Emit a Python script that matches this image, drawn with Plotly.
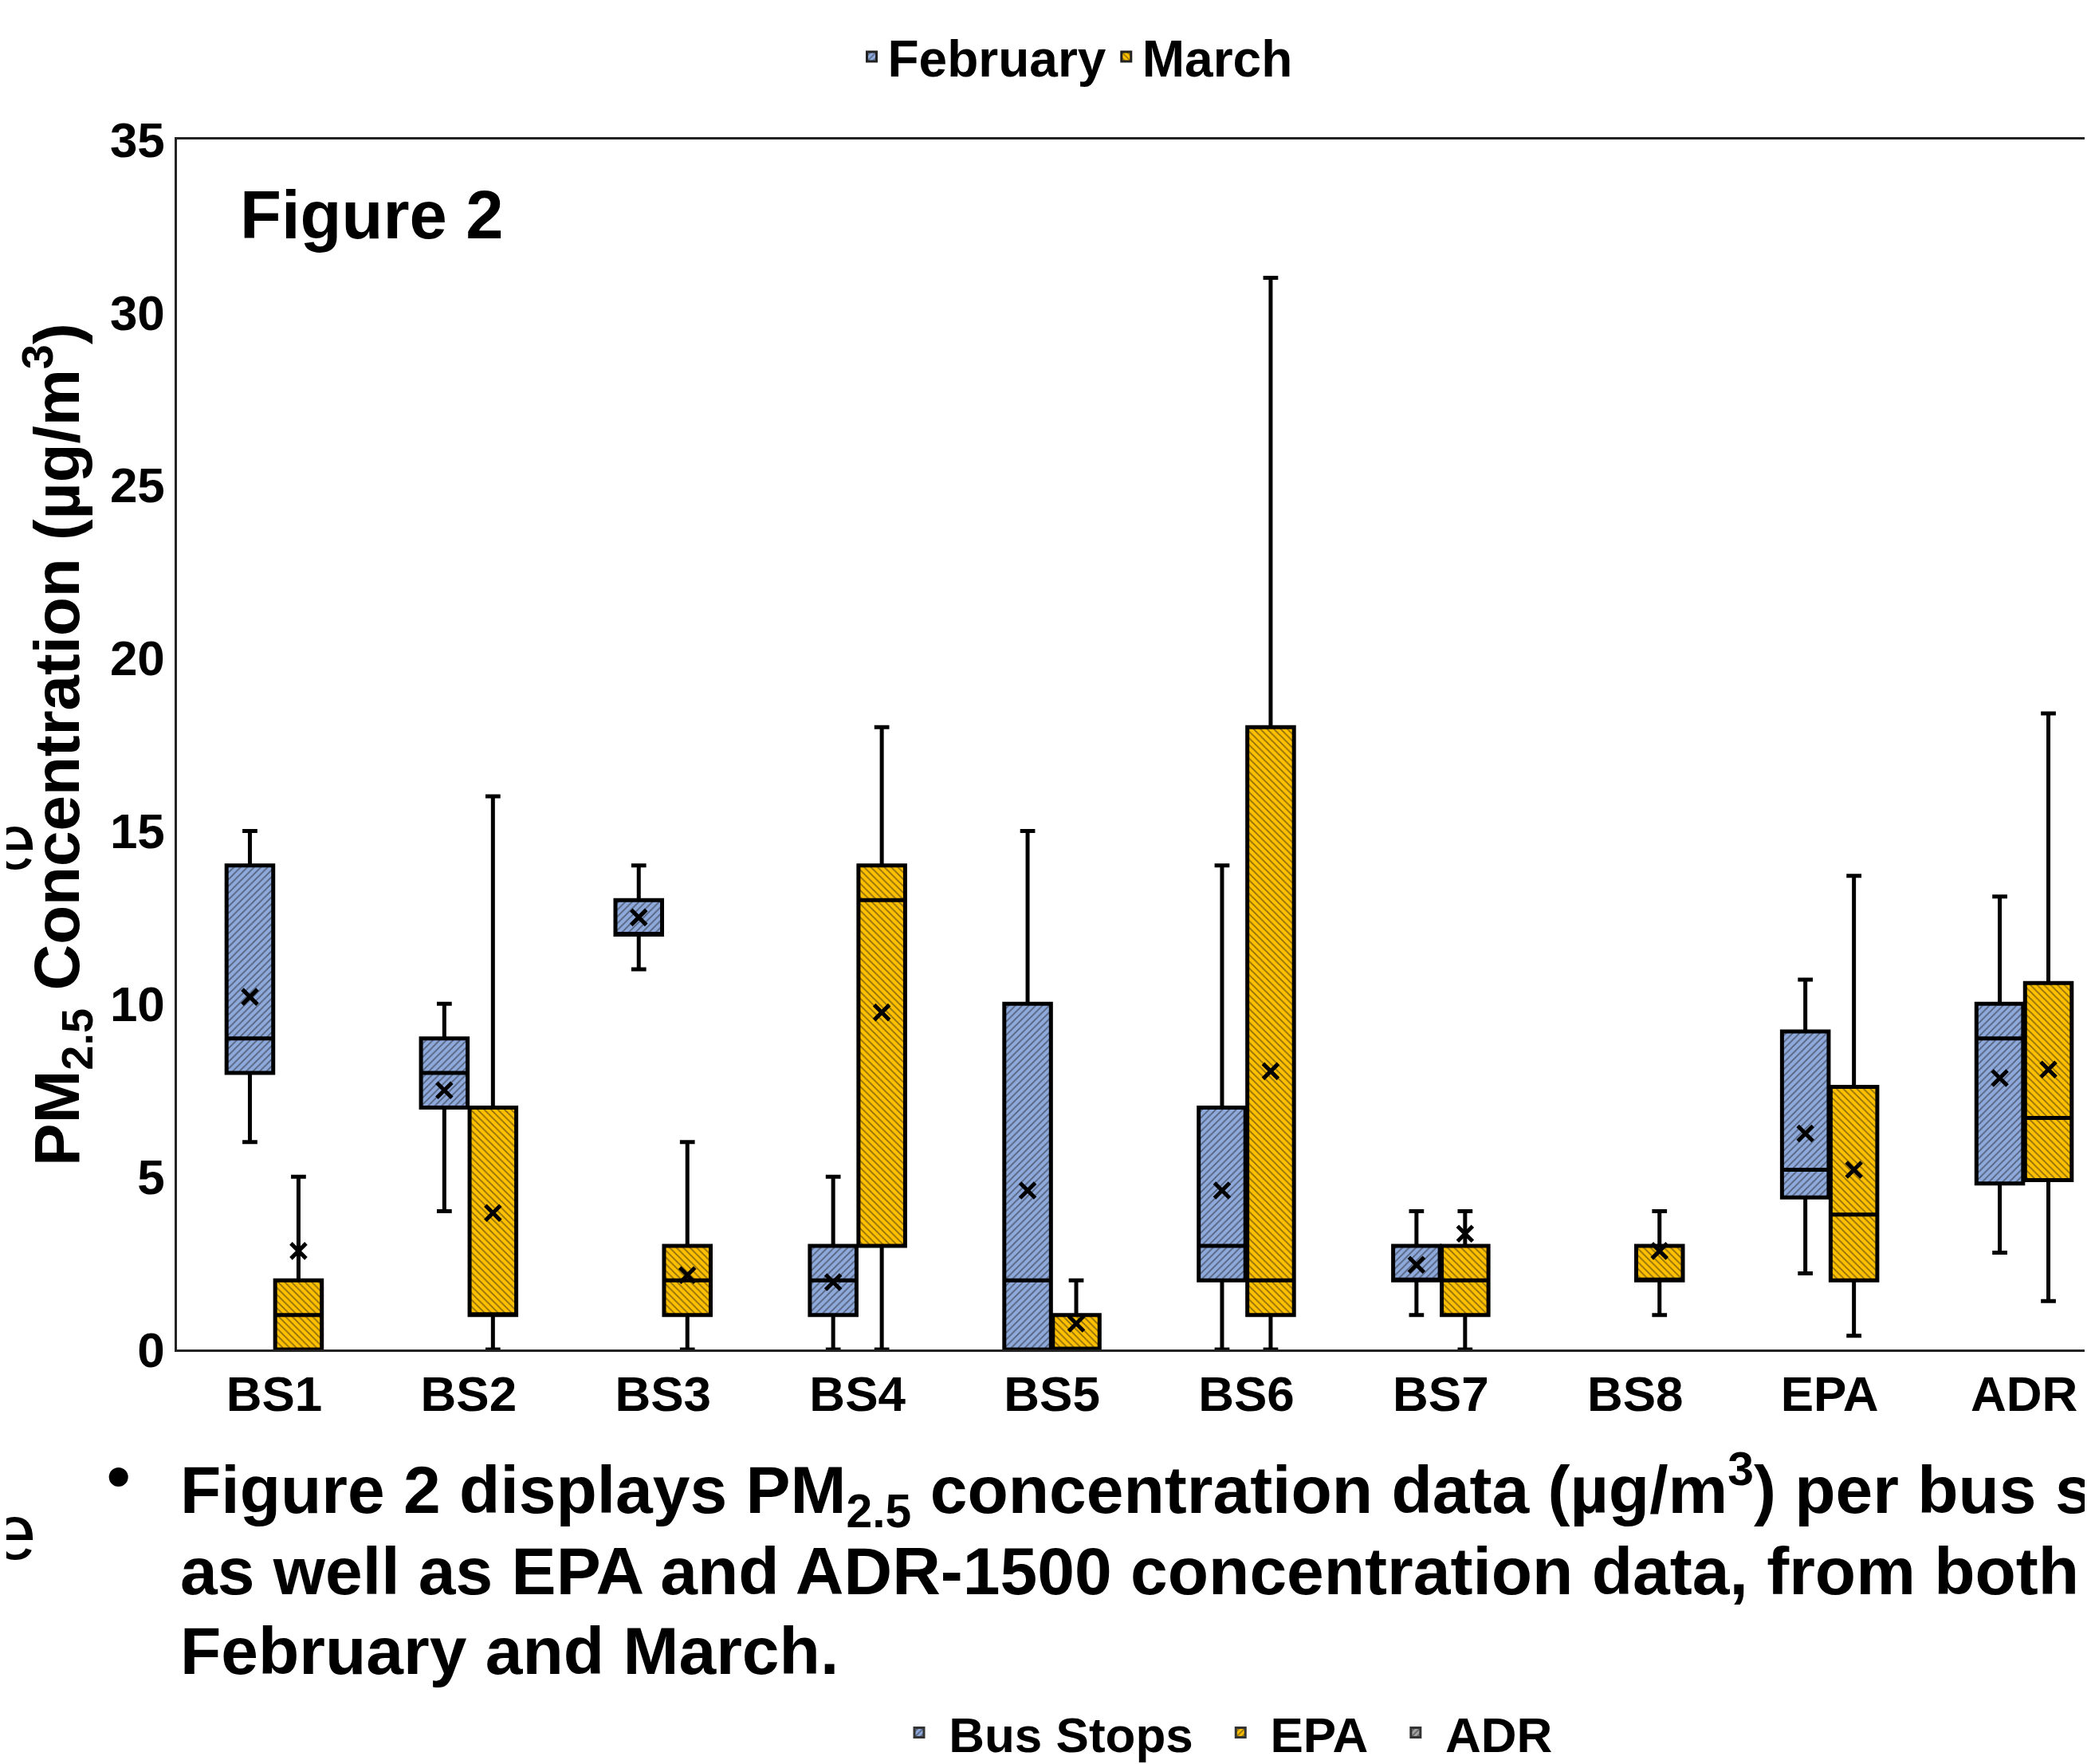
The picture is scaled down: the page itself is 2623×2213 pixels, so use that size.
import plotly.graph_objects as go

# ---------------- data ----------------
categories = ["BS1", "BS2", "BS3", "BS4", "BS5", "BS6", "BS7", "BS8", "EPA", "ADR"]

feb_low    = [6, 4, 11, 0, 0, 0, 1, None, 2.2, 2.8]
feb_q1     = [8, 7, 12, 1, 0, 2, 2, None, 4.4, 4.8]
feb_median = [9, 8, 12, 2, 2, 3, 2, None, 5.2, 9.0]
feb_q3     = [14, 9, 13, 3, 10, 7, 3, None, 9.2, 10.0]
feb_high   = [15, 10, 14, 5, 15, 14, 4, None, 10.7, 13.1]
feb_mean   = [10.2, 7.5, 12.5, 1.95, 4.6, 4.6, 2.45, None, 6.25, 7.85]

mar_low    = [0, 0, 0, 0, 0, 0, 0, 1, 0.4, 1.4]
mar_q1     = [0, 1, 1, 3, 0, 1, 1, 2, 2.0, 4.9]
mar_median = [1, 1, 2, 13, 0, 2, 2, 2, 3.9, 6.7]
mar_q3     = [2, 7, 3, 14, 1, 18, 3, 3, 7.6, 10.6]
mar_high   = [5, 16, 6, 18, 2, 31, 4, 4, 13.7, 18.4]
mar_mean   = [2.85, 3.95, 2.15, 9.75, 0.75, 8.05, 3.35, 2.85, 5.2, 8.1]

y_ticks = [0, 5, 10, 15, 20, 25, 30, 35]

legend2_names = ["Bus Stops", "EPA", "ADR"]

# ---------------- styling ----------------
FONT = "Liberation Sans, Arial, sans-serif"
BLUE = "#8EA9DB"
GOLD = "#FFC000"
GRAY = "#A5A5A5"
HATCH = "#1a1a1a"
NBSP = "\u00a0"

W_FIG, H_FIG = 2623, 2213
L, T, B = 214, 167, 1692
PW = W_FIG - L
PH = B - T
CAT_PX = 243.9          # pixel width of one category band in the reference
BOX_W = 0.24
OFF = 0.125


def px_x(p):
    return (p - L) / PW


def px_y(p):
    return (B - p) / PH


fig = go.Figure()

series = [
    ("February", BLUE, "/", -OFF, feb_low, feb_q1, feb_median, feb_q3, feb_high, feb_mean),
    ("March", GOLD, "\\", OFF, mar_low, mar_q1, mar_median, mar_q3, mar_high, mar_mean),
]

for name, color, shape, off, lo, q1, med, q3, hi, mn in series:
    idx = [i for i in range(len(categories)) if q1[i] is not None]
    xs = [i + off for i in idx]
    # hatched box body
    fig.add_trace(go.Bar(
        x=xs, y=[q3[i] - q1[i] for i in idx], base=[q1[i] for i in idx],
        width=BOX_W, name=name, legend="legend",
        marker=dict(color=color, line=dict(width=3, color="#222"),
                    pattern=dict(shape=shape, fgcolor=HATCH, bgcolor=color,
                                 size=6, solidity=0.3, fillmode="overlay")),
        hoverinfo="skip",
    ))
    # outline, median, whiskers
    fig.add_trace(go.Box(
        x=xs, q1=[q1[i] for i in idx], median=[med[i] for i in idx],
        q3=[q3[i] for i in idx], lowerfence=[lo[i] for i in idx],
        upperfence=[hi[i] for i in idx], width=BOX_W, whiskerwidth=0.32,
        fillcolor="rgba(0,0,0,0)", line=dict(color="black", width=5),
        boxpoints=False, showlegend=False, hoverinfo="skip",
    ))
    # mean markers
    fig.add_trace(go.Scatter(
        x=xs, y=[mn[i] for i in idx], mode="markers", showlegend=False,
        marker=dict(symbol="x-thin", size=19, color="black",
                    line=dict(width=5, color="black")),
        hoverinfo="skip",
    ))

# second (bottom) legend entries
pads = [NBSP * 2, NBSP * 2, ""]
for nm, col, pad in zip(legend2_names, [BLUE, GOLD, GRAY], pads):
    fig.add_trace(go.Bar(
        x=[None], y=[None], name=NBSP + nm + pad, legend="legend2",
        marker=dict(color=col, line=dict(width=3, color="#333"),
                    pattern=dict(shape="/", fgcolor=HATCH, bgcolor=col,
                                 size=6, solidity=0.35, fillmode="overlay")),
    ))

x_max = -0.5 + PW / CAT_PX

fig.update_layout(
    width=W_FIG, height=H_FIG,
    margin=dict(l=L, r=0, t=T, b=H_FIG - B, pad=0),
    paper_bgcolor="white", plot_bgcolor="white",
    barmode="overlay", boxmode="overlay",
    font=dict(family=FONT, color="black", weight="bold"),
    xaxis=dict(
        range=[-0.5, x_max], tickvals=list(range(len(categories))),
        ticktext=categories, showgrid=False, zeroline=False,
        showline=True, mirror=True, linecolor="#222", linewidth=2.5,
        ticks="", tickfont=dict(size=62, family=FONT, weight="bold"),
        ticklabelstandoff=0,
    ),
    yaxis=dict(
        range=[0, 35], tickvals=y_ticks, showgrid=False, zeroline=False,
        showline=True, linecolor="#222", linewidth=2.5, ticks="",
        tickfont=dict(size=62, family=FONT, weight="bold"),
        ticklabelstandoff=0,
        title=dict(text="PM<sub>2.5</sub> Concentration (µg/m<sup>3</sup>)",
                   font=dict(size=80, family=FONT, weight="bold"), standoff=12),
    ),
    legend=dict(
        orientation="h", x=px_x(1342), y=px_y(63), xanchor="center",
        yanchor="middle", font=dict(size=64, family=FONT, weight="bold"),
        itemwidth=30, bgcolor="rgba(0,0,0,0)", traceorder="normal",
    ),
    legend2=dict(
        orientation="h", x=px_x(1535), y=px_y(2175), xanchor="center",
        yanchor="middle", font=dict(size=62, family=FONT, weight="bold"),
        itemwidth=30, bgcolor="rgba(0,0,0,0)", traceorder="normal",
    ),
    showlegend=True,
)

anns = [
    dict(text="Figure 2", x=px_x(291), y=px_y(262), xanchor="left", yanchor="middle",
         font=dict(size=85)),
    dict(text="•", x=px_x(124), y=px_y(1852), xanchor="left", yanchor="middle",
         font=dict(size=84)),
    dict(text="Figure 2 displays PM<sub>2.5</sub> concentration data (µg/m<sup>3</sup>) per bus stop,",
         x=px_x(216), y=px_y(1869), xanchor="left", yanchor="middle", font=dict(size=84)),
    dict(text="as well as EPA and ADR-1500 concentration data, from both",
         x=px_x(216), y=px_y(1971), xanchor="left", yanchor="middle", font=dict(size=84)),
    dict(text="February and March.",
         x=px_x(216), y=px_y(2072), xanchor="left", yanchor="middle", font=dict(size=84)),
    dict(text="e", x=px_x(40), y=px_y(1052), xanchor="right", yanchor="middle",
         font=dict(size=98, weight="normal")),
    dict(text="e", x=px_x(40), y=px_y(1922), xanchor="right", yanchor="middle",
         font=dict(size=98, weight="normal")),
]
for a in anns:
    f = dict(family=FONT, color="black", weight="bold")
    f.update(a.pop("font"))
    fig.add_annotation(xref="paper", yref="paper", showarrow=False, font=f, **a)

fig.write_html("out.html")
